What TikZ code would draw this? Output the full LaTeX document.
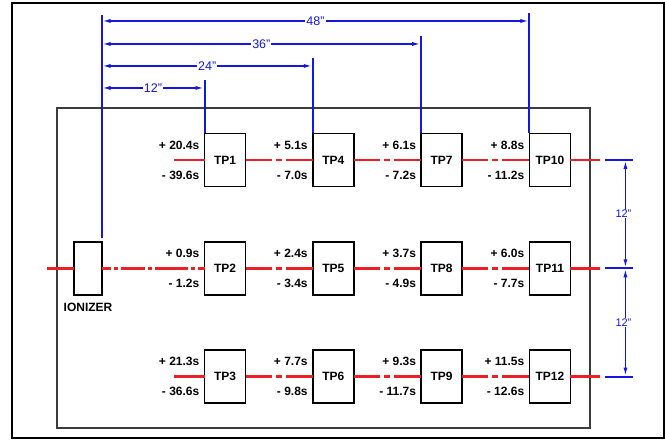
\documentclass[tikz,border=0pt]{standalone}
\usepackage{fontspec}
\setmainfont{Liberation Sans}
\usetikzlibrary{arrows.meta,positioning}
\definecolor{pipered}{RGB}{236,30,38}
\definecolor{measblue}{RGB}{22,22,226}
\definecolor{framegray}{RGB}{60,60,60}

\begin{document}
\begin{tikzpicture}[
   x=1pt,y=-1pt,
   font=\bfseries\fontsize{12}{14}\selectfont,
   every matrix/.style={ampersand replacement=\&,column sep=65.5pt,row sep=53.5pt},
   tp/.style={draw,line width=1.8pt,minimum width=41pt,minimum height=53pt,inner sep=0pt,outer sep=0pt},
   val/.style={inner sep=0pt},
   pipe/.style={draw=pipered,line width=2.5pt},
   centerline/.style={pipe,dash pattern=on 26pt off 4pt on 6pt off 4pt on 60pt},
   ionline/.style={pipe,dash pattern=on 9pt off 3pt on 4pt off 3pt on 24pt off 3pt on 4pt off 3pt on 33pt off 3pt on 4pt off 3pt on 40pt},
   meas/.style={draw=measblue,line width=2pt},
   measarr/.style={meas,line width=1.6pt,{Latex[length=9pt,width=4pt]}-{Latex[length=9pt,width=4pt]}},
   dimlbl/.style={font=\mdseries\fontsize{12.5}{14}\selectfont,text=measblue,fill=white,inner sep=1pt},
   dimlblv/.style={font=\mdseries\fontsize{11}{12}\selectfont,text=measblue,fill=white,inner sep=0.5pt}]
\useasboundingbox (0,0) rectangle (665,440);
% frames
\draw[line width=2pt] (12,3) rectangle (663.5,438);
\draw[framegray,line width=1.3pt] (57,108) rectangle (590,428);

\matrix (grid) at (387.5,268.25) {
\node[tp] (TP1) {TP1};\&\node[tp] (TP4) {TP4};\&\node[tp] (TP7) {TP7};\&\node[tp] (TP10) {TP10};\\
\node[tp] (TP2) {TP2};\&\node[tp] (TP5) {TP5};\&\node[tp] (TP8) {TP8};\&\node[tp] (TP11) {TP11};\\
\node[tp] (TP3) {TP3};\&\node[tp] (TP6) {TP6};\&\node[tp] (TP9) {TP9};\&\node[tp] (TP12) {TP12};\\
};
\node[draw,line width=1.8pt,minimum width=28pt,minimum height=53pt,inner sep=0pt,outer sep=0pt] (ion) at (88,268.25) {};
\node[val,below=8pt of ion] (ionlbl) {IONIZER};

% readings
\node[val,left=5pt of TP1.west,yshift=15pt] {+ 20.4s};
\node[val,left=5pt of TP1.west,yshift=-15pt] {- 39.6s};
\node[val,left=5pt of TP4.west,yshift=15pt] {+ 5.1s};
\node[val,left=5pt of TP4.west,yshift=-15pt] {- 7.0s};
\node[val,left=5pt of TP7.west,yshift=15pt] {+ 6.1s};
\node[val,left=5pt of TP7.west,yshift=-15pt] {- 7.2s};
\node[val,left=5pt of TP10.west,yshift=15pt] {+ 8.8s};
\node[val,left=5pt of TP10.west,yshift=-15pt] {- 11.2s};
\node[val,left=5pt of TP2.west,yshift=15pt] {+ 0.9s};
\node[val,left=5pt of TP2.west,yshift=-15pt] {- 1.2s};
\node[val,left=5pt of TP5.west,yshift=15pt] {+ 2.4s};
\node[val,left=5pt of TP5.west,yshift=-15pt] {- 3.4s};
\node[val,left=5pt of TP8.west,yshift=15pt] {+ 3.7s};
\node[val,left=5pt of TP8.west,yshift=-15pt] {- 4.9s};
\node[val,left=5pt of TP11.west,yshift=15pt] {+ 6.0s};
\node[val,left=5pt of TP11.west,yshift=-15pt] {- 7.7s};
\node[val,left=5pt of TP3.west,yshift=15pt] {+ 21.3s};
\node[val,left=5pt of TP3.west,yshift=-15pt] {- 36.6s};
\node[val,left=5pt of TP6.west,yshift=15pt] {+ 7.7s};
\node[val,left=5pt of TP6.west,yshift=-15pt] {- 9.8s};
\node[val,left=5pt of TP9.west,yshift=15pt] {+ 9.3s};
\node[val,left=5pt of TP9.west,yshift=-15pt] {- 11.7s};
\node[val,left=5pt of TP12.west,yshift=15pt] {+ 11.5s};
\node[val,left=5pt of TP12.west,yshift=-15pt] {- 12.6s};

% free ends
\coordinate (inlet) at ([xshift=-27pt]ion.west);
\coordinate (r1s) at ([xshift=-31pt]TP1.west);
\coordinate (r3s) at ([xshift=-31pt]TP3.west);
\coordinate (r1e) at ([xshift=30pt]TP10.east);
\coordinate (r2e) at ([xshift=30pt]TP11.east);
\coordinate (r3e) at ([xshift=30pt]TP12.east);

% piping
\draw[pipe] (inlet) -- (ion.west);
\draw[ionline] (ion.east) -- (TP2.west);
\draw[pipe] (r1s) -- (TP1.west);
\draw[pipe] (r3s) -- (TP3.west);
\draw[centerline] (TP1.east) -- (TP4.west);
\draw[centerline] (TP4.east) -- (TP7.west);
\draw[centerline] (TP7.east) -- (TP10.west);
\draw[centerline] (TP2.east) -- (TP5.west);
\draw[centerline] (TP5.east) -- (TP8.west);
\draw[centerline] (TP8.east) -- (TP11.west);
\draw[centerline] (TP3.east) -- (TP6.west);
\draw[centerline] (TP6.east) -- (TP9.west);
\draw[centerline] (TP9.east) -- (TP12.west);
\draw[pipe] (TP10.east) -- (r1e);
\draw[pipe] (TP11.east) -- (r2e);
\draw[pipe] (TP12.east) -- (r3e);

% extension lines
\coordinate (s0) at ([xshift=-0.5pt,yshift=4pt]ion.north east);
\coordinate (e0) at ([xshift=-0.5pt,yshift=227pt]ion.north east);
\coordinate (e1) at ([yshift=53pt]TP1.north west);
\coordinate (e4) at ([yshift=75pt]TP4.north west);
\coordinate (e7) at ([yshift=97pt]TP7.north west);
\coordinate (e10) at ([yshift=120pt]TP10.north west);
\draw[meas] (s0) -- (e0);
\draw[meas] (TP1.north west) -- (e1);
\draw[meas] (TP4.north west) -- (e4);
\draw[meas] (TP7.north west) -- (e7);
\draw[meas] (TP10.north west) -- (e10);

% horizontal dimensions
\coordinate (a1) at ([yshift=-7.5pt]e1);
\coordinate (a4) at ([yshift=-7.5pt]e4);
\coordinate (a7) at ([yshift=-7.5pt]e7);
\coordinate (a10) at ([yshift=-7.5pt]e10);
\draw[measarr] (e0 |- a1) -- (a1) node[midway,dimlbl] {12"};
\draw[measarr] (e0 |- a4) -- (a4) node[midway,dimlbl] {24"};
\draw[measarr] (e0 |- a7) -- (a7) node[midway,dimlbl] {36"};
\draw[measarr] (e0 |- a10) -- (a10) node[midway,dimlbl] {48"};

% vertical dimensions
\coordinate (h1a) at ([xshift=35pt]TP10.east);
\coordinate (h1b) at ([xshift=63pt]TP10.east);
\coordinate (h2a) at ([xshift=35pt]TP11.east);
\coordinate (h2b) at ([xshift=63pt]TP11.east);
\coordinate (h3a) at ([xshift=35pt]TP12.east);
\coordinate (h3b) at ([xshift=63pt]TP12.east);
\draw[meas] (h1a) -- (h1b);
\draw[meas] (h2a) -- (h2b);
\draw[meas] (h3a) -- (h3b);
\coordinate (v1) at ([xshift=55pt]TP10.east);
\coordinate (v2) at ([xshift=55pt]TP11.east);
\coordinate (v3) at ([xshift=55pt]TP12.east);
\draw[measarr] (v1) -- (v2) node[midway,dimlblv,xshift=-2pt] {12"};
\draw[measarr] (v2) -- (v3) node[midway,dimlblv,xshift=-2pt] {12"};
\end{tikzpicture}
\end{document}
